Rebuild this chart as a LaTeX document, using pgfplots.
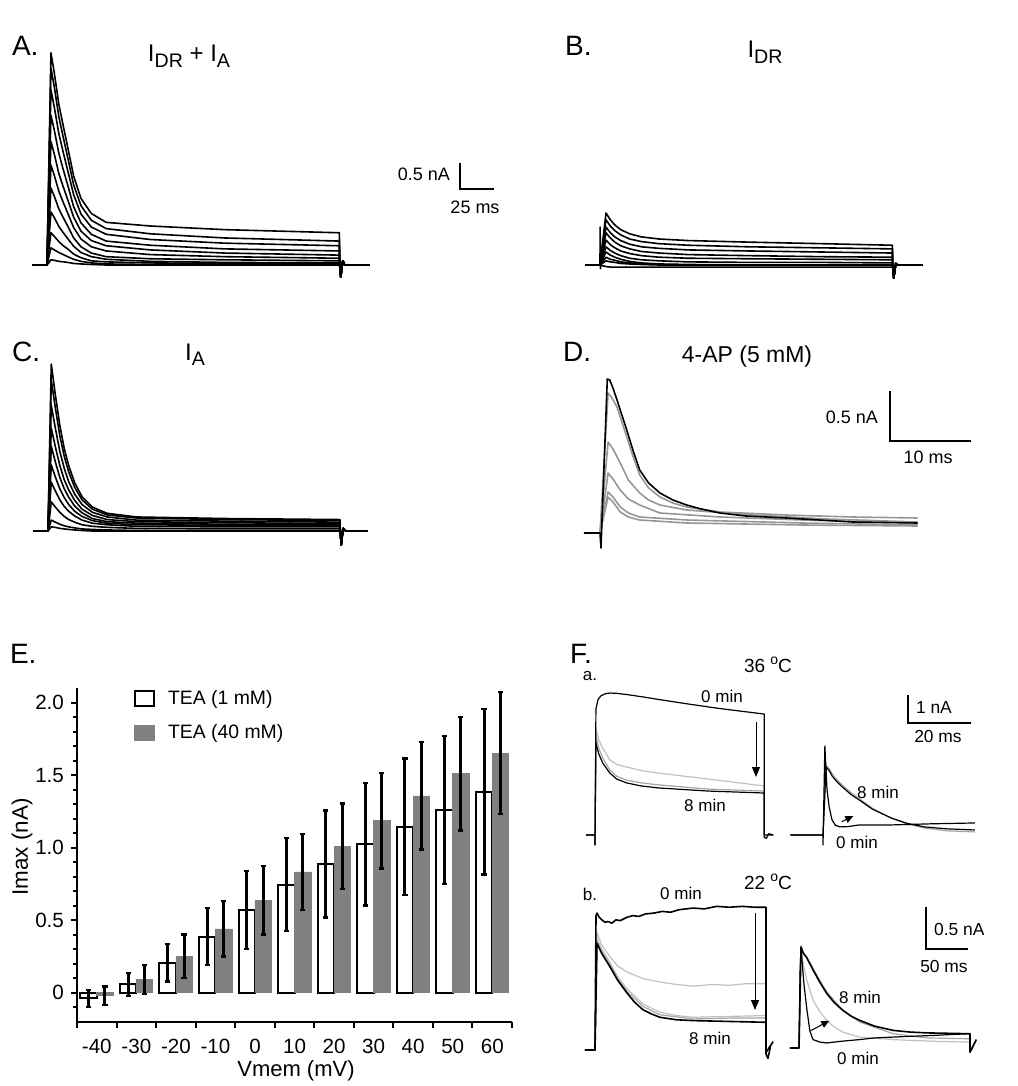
\documentclass[border=0pt]{standalone}
\usepackage{pgfplots}
\pgfplotsset{compat=1.18}
\usepackage{pgfplotstable}
\usepackage{fontspec}
\setmainfont{Liberation Sans}
\usetikzlibrary{arrows.meta}
\definecolor{bargray}{RGB}{128,128,128}
\definecolor{dgray}{RGB}{150,150,150}
\definecolor{mgray}{RGB}{165,165,165}
\definecolor{lgray}{RGB}{192,192,192}
\newcommand\fs[1]{\fontsize{#1}{#1}\selectfont}
\newcommand\sub[1]{\raisebox{-0.45ex}{\fs{9.8}#1}}

\pgfplotsset{trace/.style={hide axis, scale only axis, clip=false, anchor=origin,
  enlargelimits=false, every axis plot/.append style={no marks, line width=0.8pt, line join=round}}}

% A: I_DR + I_A  (t in ms, I in nA)
\pgfplotstableread{
t a1 a2 a3 a4 a5 a6 a7 a8 a9 a10 a11
-11 0 0 0 0 0 0 0 0 0 0 0
0 0 0 0 0 0 0 0 0 0 0 0
2.9 4.08 3.79 3.37 2.88 2.37 1.92 1.48 1.02 0.62 0.33 0.10
5.4 3.69 3.42 3.03 2.59 2.13 1.72 1.32 0.91 0.55 0.29 0.09
8.7 3.09 2.85 2.53 2.15 1.76 1.42 1.08 0.74 0.45 0.24 0.07
12 2.67 2.45 2.16 1.83 1.50 1.20 0.91 0.62 0.37 0.20 0.06
15.2 2.27 2.07 1.82 1.54 1.26 1.00 0.75 0.51 0.31 0.16 0.05
19.6 1.71 1.54 1.35 1.12 0.92 0.72 0.52 0.36 0.21 0.11 0.03
25 1.28 1.14 0.98 0.81 0.65 0.50 0.35 0.24 0.14 0.07 0.02
32.6 0.99 0.86 0.73 0.59 0.47 0.35 0.23 0.16 0.08 0.04 0.01
43.5 0.82 0.70 0.59 0.46 0.37 0.27 0.16 0.11 0.06 0.02 0
76 0.75 0.60 0.49 0.38 0.29 0.20 0.12 0.07 0.04 0.01 0
130.5 0.68 0.52 0.42 0.31 0.23 0.16 0.10 0.05 0.03 0 0
215 0.62 0.46 0.37 0.27 0.19 0.13 0.08 0.04 0.02 0 0
215.2 0 0 0 0 0 0 0 0 0 0 0
216 -0.23 -0.23 -0.23 -0.23 -0.23 -0.23 -0.23 -0.23 -0.23 -0.23 -0.23
217.5 0.08 0.08 0.08 0.08 0.08 0.08 0.08 0.08 0.08 0.08 0.08
219 0 0 0 0 0 0 0 0 0 0 0
237 0 0 0 0 0 0 0 0 0 0 0
}\tabA

% B: I_DR
\pgfplotstableread{
t b1 b2 b3 b4 b5 b6 b7 b8 b9 b10
-11 0 0 0 0 0 0 0 0 0 0
0 0 0 0 0 0 0 0 0 0 0
4.4 1.00 0.87 0.73 0.62 0.48 0.35 0.25 0.15 0.08 -0.03
7.6 0.87 0.75 0.62 0.52 0.39 0.28 0.19 0.11 0.06 -0.04
10.9 0.77 0.66 0.54 0.44 0.33 0.23 0.15 0.09 0.05 -0.04
15.2 0.68 0.58 0.47 0.37 0.27 0.18 0.11 0.06 0.03 -0.04
21.8 0.60 0.50 0.40 0.31 0.22 0.13 0.07 0.04 0.02 -0.04
30.5 0.54 0.45 0.35 0.26 0.18 0.10 0.04 0.02 0.01 -0.04
43.5 0.50 0.41 0.32 0.23 0.15 0.08 0.02 0.01 0 -0.04
65 0.47 0.38 0.29 0.20 0.13 0.06 0.01 0 0 -0.04
109 0.44 0.35 0.27 0.18 0.12 0.05 0 0 0 -0.04
163 0.41 0.33 0.25 0.16 0.11 0.05 0 0 0 -0.04
215 0.38 0.31 0.23 0.15 0.10 0.04 0 0 0 -0.04
215.2 0 0 0 0 0 0 0 0 0 0
216 -0.25 -0.25 -0.25 -0.25 -0.25 -0.25 -0.25 -0.25 -0.25 -0.25
217.5 0.03 0.03 0.03 0.03 0.03 0.03 0.03 0.03 0.03 0.03
219 0 0 0 0 0 0 0 0 0 0
237 0 0 0 0 0 0 0 0 0 0
}\tabB

% C: I_A
\pgfplotstableread{
t c1 c2 c3 c4 c5 c6 c7 c8 c9 c10
-11 0 0 0 0 0 0 0 0 0 0
0 0 0 0 0 0 0 0 0 0 0
2.4 3.21 2.90 2.42 1.98 1.63 1.27 0.94 0.56 0.21 0.08
5.4 2.62 2.37 1.98 1.62 1.33 1.04 0.77 0.46 0.17 0.07
8.7 2.03 1.83 1.53 1.26 1.03 0.81 0.60 0.36 0.13 0.05
12 1.58 1.43 1.20 0.98 0.81 0.64 0.47 0.28 0.10 0.04
15.2 1.26 1.14 0.95 0.79 0.65 0.51 0.38 0.22 0.08 0.03
19.6 0.93 0.84 0.71 0.59 0.48 0.38 0.29 0.17 0.06 0.02
25 0.66 0.60 0.51 0.42 0.35 0.28 0.21 0.12 0.04 0.01
32.6 0.46 0.42 0.36 0.30 0.24 0.20 0.15 0.09 0.03 0
43.5 0.34 0.31 0.27 0.22 0.18 0.15 0.12 0.07 0.02 0
65 0.27 0.25 0.21 0.18 0.15 0.12 0.09 0.05 0.01 0
130 0.24 0.22 0.19 0.16 0.13 0.11 0.08 0.04 0 0
214.7 0.22 0.20 0.17 0.14 0.12 0.10 0.08 0.04 0 0
214.9 0 0 0 0 0 0 0 0 0 0
215.6 -0.27 -0.27 -0.27 -0.27 -0.27 -0.27 -0.27 -0.27 -0.27 -0.27
217 0.05 0.05 0.05 0.05 0.05 0.05 0.05 0.05 0.05 0.05
219 0 0 0 0 0 0 0 0 0 0
235 0 0 0 0 0 0 0 0 0 0
}\tabC

% E: Imax (nA), mean and error, TEA 1 mM and TEA 40 mM
\pgfplotstableread{
c w we g ge
0 -0.04 0.06 -0.02 0.063
1 0.057 0.08 0.09 0.10
2 0.207 0.13 0.25 0.15
3 0.387 0.197 0.44 0.19
4 0.57 0.27 0.637 0.235
5 0.745 0.32 0.832 0.26
6 0.887 0.37 1.009 0.295
7 1.023 0.423 1.186 0.33
8 1.143 0.47 1.357 0.37
9 1.261 0.51 1.509 0.39
10 1.384 0.57 1.652 0.42
}\tabE

\begin{document}
\begin{tikzpicture}
\useasboundingbox (0,0) rectangle (508.5pt,-543pt);

% ---- A
\begin{axis}[trace, at={(23.5pt,-132.5pt)}, x=0.68pt, y=26pt]
\pgfplotsinvokeforeach{1,...,11}{\addplot[black] table[x=t,y=a#1]{\tabA};}
\end{axis}

% ---- B
\begin{axis}[trace, at={(300pt,-132.5pt)}, x=0.68pt, y=26pt]
\pgfplotsinvokeforeach{1,...,10}{\addplot[black] table[x=t,y=b#1]{\tabB};}
\addplot[black] coordinates {(0,0) (0.1,0.73) (0.3,-0.07) (0.6,0)};
\end{axis}

% ---- C
\begin{axis}[trace, at={(24pt,-265.5pt)}, x=0.68pt, y=26pt]
\pgfplotsinvokeforeach{1,...,10}{\addplot[black] table[x=t,y=c#1]{\tabC};}
\end{axis}

% ---- D
\begin{axis}[trace, at={(300pt,-266.5pt)}, x=4.05pt, y=50pt]
\addplot[dgray] coordinates {(0,0) (1.0,0.36) (1.6,0.31) (2.5,0.21) (3.5,0.16) (4.9,0.13) (10.7,0.10) (25,0.08) (39.2,0.07)};
\addplot[dgray] coordinates {(0,0) (1.0,0.41) (1.6,0.36) (2.5,0.26) (3.5,0.20) (4.9,0.16) (10.7,0.13) (25,0.10) (39.2,0.08)};
\addplot[dgray] coordinates {(0,0) (1.0,0.60) (1.6,0.54) (2.5,0.43) (3.5,0.34) (4.9,0.28) (7.4,0.20) (14.8,0.16) (25,0.13) (39.2,0.10)};
\addplot[dgray] coordinates {(0,0) (1.0,0.91) (1.6,0.84) (2.5,0.70) (3.5,0.53) (4.9,0.40) (6,0.33) (7.4,0.28) (10.7,0.23) (18.9,0.18) (28,0.14) (39.2,0.11)};
\addplot[dgray] coordinates {(0,0) (1.0,1.40) (1.4,1.36) (2.1,1.26) (2.7,1.11) (3.3,0.96) (4.1,0.76) (4.9,0.58) (6,0.45) (7.4,0.36) (9,0.30) (10.7,0.26) (14.8,0.21) (23,0.18) (31.2,0.16) (39.2,0.15)};
\addplot[black] coordinates {(-2,0) (0,0) (0.12,-0.15) (0.9,1.54) (1.2,1.53) (1.6,1.45) (2.1,1.33) (2.7,1.18) (3.3,1.03) (4.1,0.82) (4.9,0.63) (6,0.50) (7.4,0.40) (9,0.33) (10.7,0.28) (12.5,0.24) (14.8,0.20) (18,0.17) (23,0.15) (31.2,0.11) (39.2,0.10)};
\end{axis}

% ---- F a, left (36 C)
\begin{axis}[trace, at={(297.5pt,-417.5pt)}, x=1.55pt, y=14pt, every axis plot/.append style={line width=0.6pt}]
\addplot[lgray] coordinates {(0,0) (0.3,3.82) (1.2,3.4) (2.5,3.1) (4.8,2.68) (7,2.52) (10.2,2.43) (15,2.3) (20.6,2.21) (36.5,2.0) (54.6,1.75) (54.6,0)};
\addplot[mgray] coordinates {(0,0) (0.3,3.57) (1.2,3.1) (2.5,2.75) (4.8,2.32) (7,2.1) (10.2,1.96) (15,1.86) (20.6,1.79) (36.5,1.64) (54.6,1.57) (54.6,0)};
\addplot[black] coordinates {(-2.9,0) (0,0) (0,-0.36) (0.3,3.29) (1.2,2.9) (2.5,2.57) (4.8,2.21) (7,2.0) (10.2,1.86) (15,1.75) (20.6,1.68) (36.5,1.57) (54.6,1.50) (54.6,0) (57.5,0)};
\addplot[black] coordinates {(-2.9,0) (0,0) (0,-0.36) (0.3,4.5) (1,4.85) (2,4.98) (3.5,5.05) (4.8,5.07) (7,5.06) (10,5.02) (15,4.94) (20,4.85) (30,4.68) (40,4.52) (48,4.41) (54.6,4.32) (54.6,-0.08) (55.3,-0.12) (56,0.05) (57.5,0)};
\end{axis}

% ---- F a, right
\begin{axis}[trace, at={(411.5pt,-417.5pt)}, x=1.55pt, y=14pt, every axis plot/.append style={line width=0.6pt}]
\addplot[mgray] coordinates {(0,0) (1.0,2.5) (2,2.36) (3,2.18) (4.5,1.97) (6.3,1.78) (9,1.52) (11.7,1.3) (16,0.95) (22,0.6) (27,0.4) (32.7,0.25) (40,0.15) (49,0.11)};
\addplot[black] coordinates {(-10.5,0) (0,0) (1.0,2.43) (2,2.3) (3,2.1) (4.5,1.9) (6.3,1.71) (9,1.45) (11.7,1.25) (16,0.92) (22,0.61) (27,0.42) (32.7,0.29) (40,0.22) (49,0.18)};
\addplot[black] coordinates {(-10.5,0) (0,0) (0,-0.36) (0.6,3.18) (1.3,1.61) (2,1.0) (2.9,0.54) (4,0.35) (5.4,0.29) (8,0.30) (11.7,0.36) (22,0.36) (35,0.40) (49,0.43)};
\end{axis}

% ---- F b, left (22 C)
\begin{axis}[trace, at={(297.5pt,-525pt)}, x=0.42pt, y=42pt, every axis plot/.append style={line width=0.6pt}]
\addplot[lgray] coordinates {(0,0) (2.4,1.40) (8,1.25) (17.9,1.11) (27,1.0) (38,0.93) (57,0.85) (77,0.81) (97,0.78) (117,0.76) (140,0.78) (160,0.77) (180,0.79) (203.6,0.79) (203.6,0)};
\addplot[lgray] coordinates {(0,0) (2.4,1.33) (8,1.2) (17.9,1.04) (27,0.87) (38,0.73) (57,0.55) (77,0.45) (97,0.41) (117,0.39) (160,0.40) (203.6,0.41) (203.6,0)};
\addplot[mgray] coordinates {(0,0) (2.4,1.30) (8,1.17) (17.9,1.01) (27,0.85) (38,0.70) (57,0.52) (77,0.42) (117,0.37) (160,0.38) (203.6,0.38) (203.6,0)};
\addplot[black, line width=0.8pt] coordinates {(-12,0) (0,0) (2.4,1.27) (8,1.15) (17.9,0.99) (27,0.83) (38,0.68) (47,0.57) (57,0.48) (67,0.43) (77,0.39) (97,0.36) (117,0.35) (160,0.34) (203.6,0.33) (203.6,-0.03) (212,0.1)};
\addplot[black, line width=0.8pt] coordinates {(-12,0) (0,0) (1.2,1.6) (2.4,1.63) (5,1.58) (8,1.55) (12,1.52) (15.5,1.53) (20,1.51) (25,1.55) (30,1.54) (38,1.58) (45,1.60) (52,1.59) (60,1.62) (70,1.63) (80,1.65) (90,1.64) (100,1.67) (117,1.69) (130,1.68) (145,1.71) (160,1.70) (175,1.71) (190,1.70) (203.6,1.70) (203.6,-0.05) (206,-0.1) (209,0.05)};
\end{axis}

% ---- F b, right
\begin{axis}[trace, at={(399.5pt,-524pt)}, x=0.42pt, y=42pt, every axis plot/.append style={line width=0.6pt}]
\addplot[lgray] coordinates {(0,0) (2.4,1.18) (6,0.95) (9.5,0.8) (16.7,0.57) (25,0.43) (33,0.33) (42,0.25) (52,0.19) (72,0.13) (112,0.10) (160,0.08) (203.6,0.07) (203.6,-0.05) (211,0.08)};
\addplot[mgray] coordinates {(0,0) (2.4,1.22) (5,1.14) (9.5,1.08) (16.7,0.95) (25,0.80) (33,0.67) (52,0.45) (72,0.31) (112,0.17) (152,0.12) (203.6,0.11) (203.6,-0.05) (211,0.1)};
\addplot[black, line width=0.8pt] coordinates {(-11,0) (0,0) (2.4,1.20) (5,1.13) (9.5,1.07) (16.7,0.93) (25,0.78) (33,0.65) (42,0.54) (52,0.45) (62,0.38) (72,0.33) (90,0.26) (112,0.21) (132,0.19) (152,0.18) (203.6,0.17) (203.6,-0.05) (211,0.1)};
\addplot[black] coordinates {(-11,0) (0,0) (1.2,0.9) (2.4,1.20) (4,0.98) (6,0.75) (9.5,0.45) (13,0.2) (16.7,0.10) (25,0.07) (33,0.06) (50,0.08) (72,0.10) (90,0.12) (112,0.13) (135,0.14) (160,0.15) (180,0.16) (203.6,0.17)};
\end{axis}

% ---- E
\begin{axis}[at={(38.5pt,-510.85pt)}, anchor=south west, scale only axis,
  width=217.5pt, height=166.85pt,
  xmin=-0.5, xmax=10.5, ymin=-0.2, ymax=2.1,
  axis x line*=bottom, axis y line*=left,
  axis line style={line width=1pt},
  ybar, bar width=0.415,
  xtick={-0.5,0.5,...,10.5},
  xticklabels={-40,-30,-20,-10,0,10,20,30,40,50,60,{}},
  x tick label style={xshift=9.9pt, yshift=-2pt},
  ytick={0,0.5,1,1.5,2}, yticklabels={0,0.5,1.0,1.5,2.0},
  minor ytick={-0.1,0.1,0.2,0.3,0.4,0.6,0.7,0.8,0.9,1.1,1.2,1.3,1.4,1.6,1.7,1.8,1.9},
  tick align=outside, major tick length=3pt, minor tick length=1.8pt,
  tick style={line width=1pt, black},
  tick label style={font=\fs{10.3}},
  legend image code/.code={\draw[#1] (0pt,-3.75pt) rectangle (9.75pt,3.75pt);},
  legend style={at={(0.129,1.0)}, anchor=north west, draw=none, fill=none,
    font=\fs{9.7}, row sep=6.3pt, inner sep=0pt, nodes={inner sep=1pt},
    /tikz/every odd column/.append style={column sep=5.5pt},
    legend cell align=left},
  error bars/y dir=both, error bars/y explicit,
  error bars/error bar style={line width=1.5pt, black},
  error bars/error mark options={rotate=90, mark size=1.3pt, line width=1.2pt, black},
]
\addplot[fill=white, draw=black, line width=1pt, bar shift=-0.2075]
  table[x=c, y=w, y error=we]{\tabE};
\addplot[fill=bargray, draw=bargray, line width=0.3pt, bar shift=0.2075]
  table[x=c, y=g, y error=ge]{\tabE};
\legend{TEA (1 mM), TEA (40 mM)}
\end{axis}

% ---- annotations (pixel units of the reference)
\begin{scope}[x=0.5pt, y=-0.5pt]
\node[anchor=base west, font=\fs{14}] at (5,56) {A.};
\node[anchor=base west, font=\fs{14}] at (558,56) {B.};
\node[anchor=base west, font=\fs{14}] at (5,361) {C.};
\node[anchor=base west, font=\fs{14}] at (556,361) {D.};
\node[anchor=base west, font=\fs{14}] at (3,663) {E.};
\node[anchor=base west, font=\fs{14}] at (563,663) {F.};
\node[anchor=base, font=\fs{12}] at (189,62) {I\sub{DR} + I\sub{A}};
\node[anchor=base, font=\fs{12}] at (765,58) {I\sub{DR}};
\node[anchor=base, font=\fs{12}] at (195,360) {I\sub{A}};
\node[anchor=base, font=\fs{11.5}] at (747,362) {4-AP (5 mM)};
% scale bars
\draw[line width=0.6pt] (460,163) -- (460,189) -- (494,189);
\node[anchor=east, font=\fs{9}] at (457,174) {0.5 nA};
\node[font=\fs{9}] at (475,207) {25 ms};
\draw[line width=0.6pt] (890,391) -- (890,441) -- (971,441);
\node[anchor=east, font=\fs{9}] at (885,417) {0.5 nA};
\node[font=\fs{9}] at (928,457) {10 ms};
\draw[line width=0.6pt] (908,695) -- (908,723) -- (971,723);
\node[anchor=west, font=\fs{8.7}] at (909,708) {1 nA};
\node[font=\fs{8.7}] at (938,737) {20 ms};
\draw[line width=0.6pt] (926,907) -- (926,949) -- (968,949);
\node[anchor=west, font=\fs{8.7}] at (927,929) {0.5 nA};
\node[font=\fs{8.7}] at (944,966) {50 ms};
% F labels
\node[font=\fs{8.5}] at (590,676) {a.};
\node[font=\fs{8.5}] at (590,894) {b.};
\node[font=\fs{9.5}] at (768,665) {36 \raisebox{0.8ex}{\fs{7}o}C};
\node[font=\fs{9.5}] at (768,882) {22 \raisebox{0.8ex}{\fs{7}o}C};
\node[font=\fs{8.5}] at (722,696) {0 min};
\node[font=\fs{8.5}] at (705,805) {8 min};
\node[font=\fs{8.5}] at (878,792) {8 min};
\node[font=\fs{8.5}] at (857,842) {0 min};
\node[font=\fs{8.5}] at (681,893) {0 min};
\node[font=\fs{8.5}] at (710,1038) {8 min};
\node[font=\fs{8.5}] at (860,997) {8 min};
\node[font=\fs{8.5}] at (858,1058) {0 min};
\draw[-{Triangle[width=4pt,length=5pt]}, line width=0.5pt] (756,722) -- (756,777);
\draw[-{Triangle[width=3.5pt,length=4pt]}, line width=0.5pt] (841.7,821.7) -- (853.3,816);
\draw[-{Triangle[width=4pt,length=5pt]}, line width=0.5pt] (755,913) -- (755,1010);
\draw[-{Triangle[width=3.5pt,length=4pt]}, line width=0.5pt] (810.7,1030.7) -- (829.3,1020.7);
% E axis labels
\node[rotate=90, font=\fs{11.2}] at (22,847) {Imax (nA)};
\node[font=\fs{11}] at (296,1071) {Vmem (mV)};
\end{scope}
\end{tikzpicture}
\end{document}
